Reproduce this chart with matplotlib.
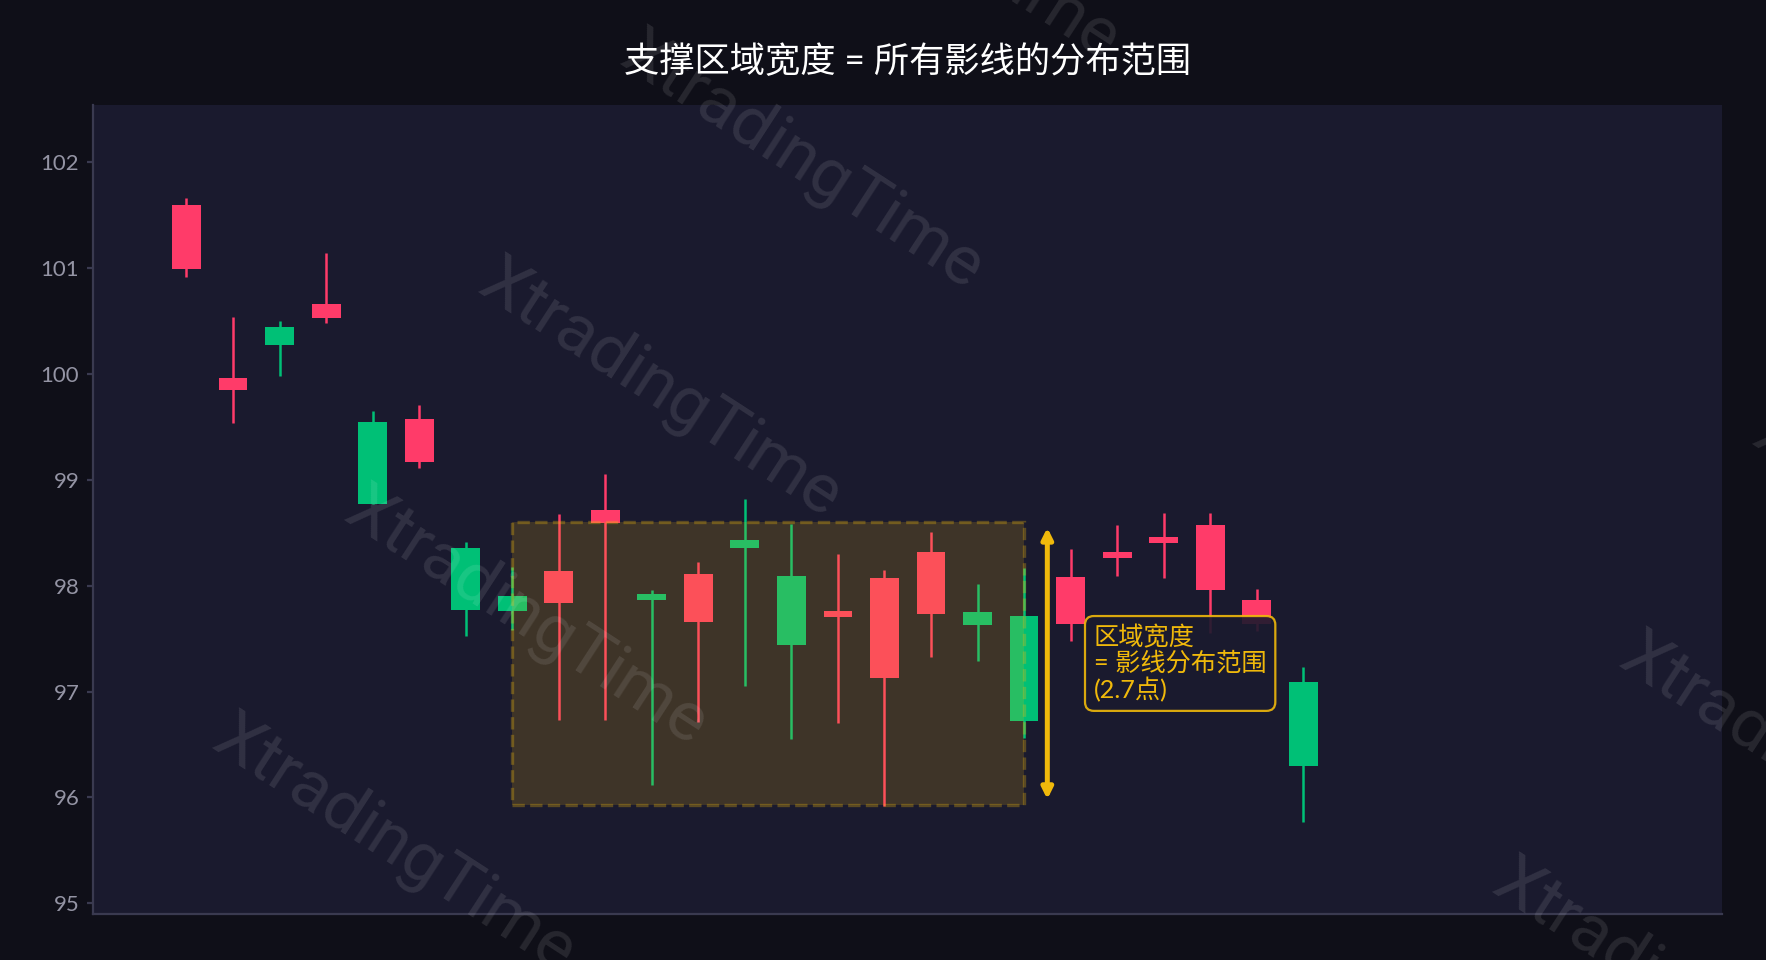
import matplotlib.pyplot as plt
from matplotlib.patches import Rectangle

plt.rcParams['font.family'] = ['Lato', 'Noto Sans CJK SC', 'DejaVu Sans']

# 蜡烛数据
opens = [101.60, 99.96, 100.27, 100.66, 98.77, 99.57, 97.77, 97.76, 98.14, 98.71,
         97.86, 98.11, 98.36, 97.44, 97.76, 98.07, 98.32, 97.63, 96.72, 98.08,
         98.32, 98.46, 98.57, 97.86, 96.30]
closes = [100.99, 99.85, 100.44, 100.53, 99.55, 99.17, 98.36, 97.90, 97.84, 98.59,
          97.92, 97.66, 98.43, 98.09, 97.70, 97.13, 97.73, 97.75, 97.71, 97.64,
          98.26, 98.40, 97.96, 97.64, 97.09]
highs = [101.66, 100.54, 100.50, 101.14, 99.65, 99.71, 98.41, 98.18, 98.68, 99.05,
         97.96, 98.22, 98.82, 98.58, 98.30, 98.15, 98.51, 98.02, 98.17, 98.35,
         98.57, 98.69, 98.69, 97.97, 97.23]
lows = [100.92, 99.54, 99.98, 100.48, 98.77, 99.11, 97.52, 97.58, 96.73, 96.73,
        96.12, 96.71, 97.05, 96.55, 96.70, 95.92, 97.33, 97.29, 96.56, 97.48,
        98.09, 98.07, 97.55, 97.57, 95.77]

zone_start, zone_end = 7, 18
zone_low, zone_high = 95.93, 98.60
yticks = [95, 96, 97, 98, 99, 100, 101, 102]

title = '支撑区域宽度 = 所有影线的分布范围'
note = '区域宽度\n= 影线分布范围\n(2.7点)'

UP = '#00C076'
DOWN = '#FF3B69'
GOLD = '#F0B90B'
FIG_BG = '#0F0F18'
AX_BG = '#1A1A2E'

fig = plt.figure(figsize=(8.83, 4.8), dpi=200, facecolor=FIG_BG)
ax = fig.add_axes([0.0529, 0.0481, 0.9222, 0.8425])
ax.set_facecolor(AX_BG)

x = list(range(len(opens)))
colors = [UP if c >= o else DOWN for o, c in zip(opens, closes)]
bottoms = [min(o, c) for o, c in zip(opens, closes)]
heights = [max(abs(c - o), 0.02) for o, c in zip(opens, closes)]

ax.vlines(x, lows, highs, colors=colors, linewidth=0.9, zorder=2)
ax.bar(x, heights, bottom=bottoms, width=0.62, color=colors, linewidth=0, zorder=3)

# 支撑区域
zone = Rectangle((zone_start, zone_low), zone_end - zone_start, zone_high - zone_low,
                 facecolor=GOLD, alpha=0.17, edgecolor='none', zorder=4)
ax.add_patch(zone)
zone_edge = Rectangle((zone_start, zone_low), zone_end - zone_start, zone_high - zone_low,
                      facecolor='none', edgecolor=GOLD, alpha=0.3, linewidth=1.2,
                      linestyle='--', zorder=4)
ax.add_patch(zone_edge)

ax.annotate('', xy=(zone_end + 0.5, zone_high), xytext=(zone_end + 0.5, zone_low),
            arrowprops=dict(arrowstyle='<|-|>', color=GOLD, lw=1.8, mutation_scale=8),
            zorder=5)

ax.text(zone_end + 1.5, (zone_low + zone_high) / 2, note, color=GOLD, fontsize=9.1,
        ha='left', va='center', zorder=6, linespacing=1.1,
        bbox=dict(boxstyle='round,pad=0.35', facecolor=AX_BG, edgecolor=GOLD,
                  linewidth=0.8, alpha=0.9))

ax.set_xlim(-2, 33)
ax.set_ylim(94.9, 102.54)
ax.set_yticks(yticks)
ax.set_xticks([])
ax.tick_params(axis='y', colors='#3A3A50', labelcolor='#9494A4', labelsize=8,
               length=2.2, width=0.8, pad=2.9)
for side in ['top', 'right']:
    ax.spines[side].set_visible(False)
for side in ['left', 'bottom']:
    ax.spines[side].set_color('#3A3A50')
    ax.spines[side].set_linewidth(0.8)

ax.set_title(title, color='white', fontsize=12.7, pad=12)

# 水印
marks = [(0.531, 1.071), (0.454, 0.833), (0.374, 0.595), (0.298, 0.358), (0.223, 0.120),
         (1.095, 0.437), (1.02, 0.205), (0.948, -0.03)]
for mx, my in marks:
    fig.text(mx, my, 'XtradingTime', fontsize=25, family='Roboto', color='white',
             alpha=0.1, rotation=-33, ha='center', va='center',
             rotation_mode='anchor', zorder=10)

fig.savefig('out.png', dpi=200, facecolor=FIG_BG)
